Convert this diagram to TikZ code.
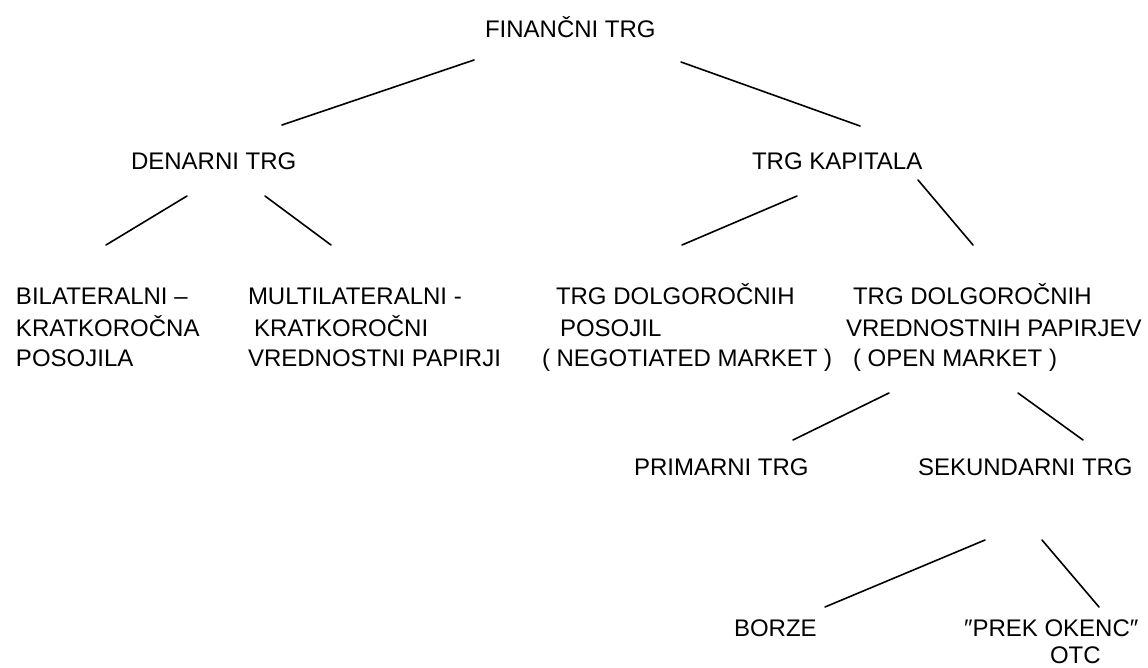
\documentclass[tikz,border=0pt]{standalone}
\usepackage{fontspec}
\setmainfont{Liberation Sans}
\begin{document}
\begin{tikzpicture}[x=1pt,y=-1pt,
  lbl/.style={anchor=base west,inner sep=0pt,outer sep=0pt,font=\fontsize{24}{30}\selectfont},
  edge/.style={line width=1.6pt,line cap=round}]
\useasboundingbox[fill=white] (0,0) rectangle (1148,668);
% texts
\node[lbl] (fin) at (485,38) {FINANČNI TRG};
\node[lbl] (den) at (131,170) {DENARNI TRG};
\node[lbl] (kap) at (752,170) {TRG KAPITALA};
\node[lbl] (bil1) at (16,305) {BILATERALNI –};
\node[lbl] (bil2) at (16,336) {KRATKOROČNA};
\node[lbl] (bil3) at (16,366) {POSOJILA};
\node[lbl] (mul1) at (248,305) {MULTILATERALNI -};
\node[lbl] (mul2) at (254,336) {KRATKOROČNI};
\node[lbl] (mul3) at (248,366) {VREDNOSTNI PAPIRJI};
\node[lbl] (neg1) at (556,305) {TRG DOLGOROČNIH};
\node[lbl] (neg2) at (560,336) {POSOJIL};
\node[lbl] (neg3) at (542,366) {( NEGOTIATED MARKET )};
\node[lbl] (opn1) at (853,305) {TRG DOLGOROČNIH};
\node[lbl] (opn2) at (846,336) {VREDNOSTNIH PAPIRJEV};
\node[lbl] (opn3) at (853,366) {( OPEN MARKET )};
\node[lbl] (pri) at (634,475) {PRIMARNI TRG};
\node[lbl] (sek) at (918,475) {SEKUNDARNI TRG};
\node[lbl] (bor) at (734,636) {BORZE};
\node[lbl] (otc1) at (964,636) {″PREK OKENC″};
\node[lbl] (otc2) at (1050,663) {OTC};
% connector end points
\coordinate (a1) at (474,60);  \coordinate (a2) at (282,125);
\coordinate (b1) at (681,62);  \coordinate (b2) at (860,126);
\coordinate (c1) at (187,196); \coordinate (c2) at (106,245);
\coordinate (d1) at (265,196); \coordinate (d2) at (331,245);
\coordinate (e1) at (797,196); \coordinate (e2) at (682,245);
\coordinate (f1) at (918,180); \coordinate (f2) at (973,245);
\coordinate (g1) at (889,393); \coordinate (g2) at (793,440);
\coordinate (h1) at (1018,393); \coordinate (h2) at (1083,440);
\coordinate (i1) at (985,540); \coordinate (i2) at (825,607);
\coordinate (j1) at (1042,540); \coordinate (j2) at (1099,607);
\foreach \p in {a,b,c,d,e,f,g,h,i,j}{\draw[edge] (\p1) -- (\p2);}
\end{tikzpicture}
\end{document}
